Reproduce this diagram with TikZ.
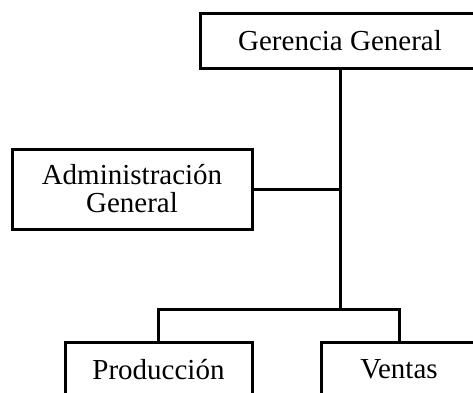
\documentclass[tikz,border=0pt]{standalone}
\usepackage{fontspec}
\setmainfont{Liberation Serif}
\begin{document}
\begin{tikzpicture}[x=1pt,y=-1pt,
  orgbox/.style={draw, line width=3pt, inner sep=0pt, align=center,
    font=\fontsize{29}{28}\selectfont},
  link/.style={line width=3pt}]
\useasboundingbox (0,0) rectangle (473,392);
\clip (0,0) rectangle (473,392);
\node[orgbox, minimum width=280, minimum height=55] (ger) at (340,40.5) {Gerencia General};
\node[orgbox, minimum width=240, minimum height=80] (adm) at (132,189) {Administración\\General};
\node[orgbox, minimum width=187, minimum height=55] (prod) at (158.5,369.5) {Producción};
\node[orgbox, minimum width=156, minimum height=55] (ven) at (399,369.5) {Ventas};
\coordinate (j) at (340,309);
\draw[link] (ger.south) -- (j);
\draw[link] (adm.east) -- (adm.east -| ger.south);
\draw[link] (prod.north) |- (j) -| (ven.north);
\end{tikzpicture}
\end{document}
